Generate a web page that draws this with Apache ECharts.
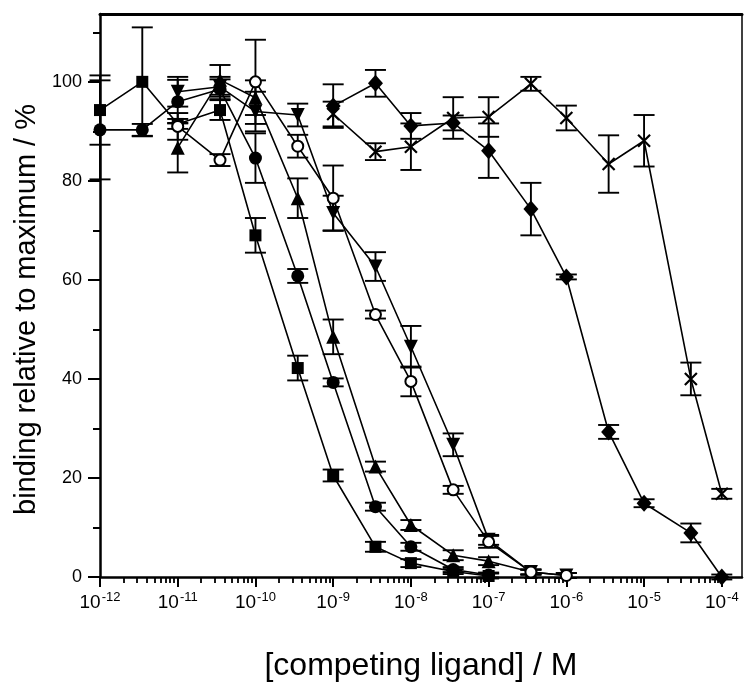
<!DOCTYPE html>
<html>
<head>
<meta charset="utf-8">
<script src="https://cdn.jsdelivr.net/npm/echarts@6/dist/echarts.min.js"></script>
<style>html,body{margin:0;padding:0;background:#fff}#c{width:744px;height:695px}</style>
</head>
<body>
<div id="c"></div>
<script>
// concentrations of competing ligand (M)
const concentrations = [1e-12, 3.5e-12, 1e-11, 3.5e-11, 1e-10, 3.5e-10, 1e-9, 3.5e-9, 1e-8, 3.5e-8, 1e-7, 3.5e-7, 1e-6, 3.5e-6, 1e-5, 4e-5, 1e-4];
const xTickExponents = [-12, -11, -10, -9, -8, -7, -6, -5, -4];
const yTickValues = [0, 20, 40, 60, 80, 100];
const yMinorValues = [10, 30, 50, 70, 90, 110];

// series values (binding relative to maximum, %) and error half-widths
const squareVals   = [94.3, 100, 91.5, 94.3, 69, 42.2, 20.5, 6.1, 2.8, 1.1, 0.2];
const squareErr    = [7, 11, 1, 2, 3.5, 2.5, 1.2, 1, 0.8, 0.5, 0.5];
const circleVals   = [90.3, 90.3, 96, 98.5, 84.6, 60.8, 39.3, 14.2, 6.1, 1.5, 0.4];
const circleErr    = [10, 1.2, 4.4, 2, 5, 1.4, 0.8, 0.8, 0.8, 0.5, 0.5];
const triUpVals    = [null, null, 86.7, 100.4, 96.8, 76.5, 48.5, 22.3, 10.5, 4.4, 3.2, 1];
const triUpErr     = [null, null, 5, 3, 3.5, 4, 3.5, 1, 1, 1, 0.8, 0.5];
const triDownVals  = [null, null, 98, 99, 94.0, 93.3, 73.5, 62.7, 46.5, 26.7, 7.5, 1, 0.3];
const triDownErr   = [null, null, 3, 2, 4, 2.3, 3.5, 2.9, 4.2, 2.3, 1, 0.5, 0.5];
const openCircVals = [null, null, 91, 84.2, 100, 87, 76.5, 53, 39.5, 17.6, 7.1, 1, 0.3];
const openCircErr  = [null, null, 2.7, 1.2, 8.5, 2.3, 6.6, 0.8, 3, 0.8, 1.2, 0.5, 0.5];
const diamondVals  = [null, null, null, null, null, null, 95.1, 99.7, 91.1, 91.7, 86.1, 74.3, 60.6, 29.3, 14.9, 8.9, 0];
const diamondErr   = [null, null, null, null, null, null, 4.4, 2.7, 2.6, 1.5, 5.5, 5.3, 0.5, 1.4, 0.8, 1.9, 0.5];
const crossVals    = [null, null, null, null, null, null, 93.5, 85.9, 86.9, 92.7, 92.9, 99.6, 92.7, 83.4, 88.1, 40, 16.8];
const crossErr     = [null, null, null, null, null, null, 2.5, 1.7, 4.7, 4.2, 4, 1.4, 2.5, 5.8, 5.2, 3.3, 1];

const X_MIN = -12, X_MAX = -3.74, Y_MIN = 0, Y_MAX = 113.7;
const FONT = "'Liberation Sans', Arial, Helvetica, sans-serif";

function pts(vals) {
  const out = [];
  vals.forEach((v, i) => { if (v != null) out.push([Math.log10(concentrations[i]), v]); });
  return out;
}
function errs(vals, e) {
  const out = [];
  vals.forEach((v, i) => { if (v != null && e[i] != null) out.push([Math.log10(concentrations[i]), v - e[i], v + e[i]]); });
  return out;
}
const minorX = [];
for (let k = -12; k < -4; k++) for (let m = 2; m <= 9; m++) minorX.push(k + Math.log10(m));

function errSeries(vals, e) {
  return {
    type: 'custom', xAxisIndex: 0, yAxisIndex: 0, z: 2, silent: true,
    data: errs(vals, e),
    renderItem: function (params, api) {
      const x = api.value(0);
      const p1 = api.coord([x, api.value(1)]);
      const p2 = api.coord([x, api.value(2)]);
      const w = 10.5;
      const st = { stroke: '#000', lineWidth: 1.9 };
      return { type: 'group', children: [
        { type: 'line', shape: { x1: p1[0], y1: p1[1], x2: p2[0], y2: p2[1] }, style: st },
        { type: 'line', shape: { x1: p1[0] - w, y1: p1[1], x2: p1[0] + w, y2: p1[1] }, style: st },
        { type: 'line', shape: { x1: p2[0] - w, y1: p2[1], x2: p2[0] + w, y2: p2[1] }, style: st }
      ]};
    }
  };
}
function lineSeries(vals, symbol, size, opts) {
  return Object.assign({
    type: 'line', xAxisIndex: 0, yAxisIndex: 0, z: 3,
    data: pts(vals), symbol: symbol, symbolSize: size, showAllSymbol: true,
    lineStyle: { color: '#000', width: 1.6 },
    itemStyle: { color: '#000', borderColor: '#000', borderWidth: 0 },
    emphasis: { disabled: true }
  }, opts || {});
}
const crossPath = 'path://M0,0L10,10M10,0L0,10';

const chart = echarts.init(document.getElementById('c'), null, { renderer: 'canvas' });
chart.setOption({
  animation: false,
  backgroundColor: '#fff',
  grid: { left: 100, right: 2, top: 14, bottom: 118, show: false },
  xAxis: [
    {
      type: 'value', min: X_MIN, max: X_MAX, position: 'bottom',
      name: '[competing ligand] / M', nameLocation: 'middle', nameGap: 73,
      nameTextStyle: { fontFamily: FONT, fontSize: 32, color: '#000' },
      axisLine: { show: true, onZero: false, lineStyle: { color: '#000', width: 2.5 } },
      axisTick: { show: true, inside: false, length: 10, lineStyle: { width: 2, color: '#000' }, customValues: xTickExponents },
      axisLabel: {
        customValues: xTickExponents, margin: 14,
        formatter: v => '{b|10}{s|' + v + '}',
        rich: {
          b: { fontFamily: FONT, fontSize: 19, color: '#000' },
          s: { fontFamily: FONT, fontSize: 13, color: '#000', verticalAlign: 'top', padding: [0, 0, 10, 1] }
        }
      },
      splitLine: { show: false }
    },
    {
      type: 'value', min: X_MIN, max: X_MAX, position: 'bottom',
      axisLine: { show: false, onZero: false }, axisLabel: { show: false }, splitLine: { show: false },
      axisTick: { show: true, inside: false, length: 6, lineStyle: { width: 1.8, color: '#000' }, customValues: minorX }
    },
    {
      type: 'value', min: X_MIN, max: X_MAX, position: 'top',
      axisLine: { show: true, onZero: false, lineStyle: { color: '#000', width: 3 } },
      axisTick: { show: false }, axisLabel: { show: false }, splitLine: { show: false }
    }
  ],
  yAxis: [
    {
      type: 'value', min: Y_MIN, max: Y_MAX, position: 'left',
      name: 'binding relative to maximum / %', nameLocation: 'middle', nameGap: 45,
      nameTextStyle: { fontFamily: FONT, fontSize: 29, color: '#000', padding: [0, 28, 0, 0] },
      axisLine: { show: true, onZero: false, lineStyle: { color: '#000', width: 2.5 } },
      axisTick: { show: true, inside: false, length: 12, lineStyle: { width: 2, color: '#000' }, customValues: yTickValues },
      axisLabel: { customValues: yTickValues, margin: 18, fontFamily: FONT, fontSize: 18, color: '#000' },
      splitLine: { show: false }
    },
    {
      type: 'value', min: Y_MIN, max: Y_MAX, position: 'left',
      axisLine: { show: false, onZero: false }, axisLabel: { show: false }, splitLine: { show: false },
      axisTick: { show: true, inside: false, length: 7, lineStyle: { width: 2, color: '#000' }, customValues: yMinorValues }
    },
    {
      type: 'value', min: Y_MIN, max: Y_MAX, position: 'right',
      axisLine: { show: true, onZero: false, lineStyle: { color: '#000', width: 1.5 } },
      axisTick: { show: false }, axisLabel: { show: false }, splitLine: { show: false }
    }
  ],
  series: [
    errSeries(crossVals, crossErr),
    errSeries(diamondVals, diamondErr),
    errSeries(squareVals, squareErr),
    errSeries(circleVals, circleErr),
    errSeries(triUpVals, triUpErr),
    errSeries(triDownVals, triDownErr),
    errSeries(openCircVals, openCircErr),
    lineSeries(crossVals, crossPath, 12, { itemStyle: { color: 'none', borderColor: '#000', borderWidth: 2.2 } }),
    lineSeries(diamondVals, 'diamond', [15, 17]),
    lineSeries(squareVals, 'rect', 12),
    lineSeries(circleVals, 'circle', 13),
    lineSeries(triUpVals, 'triangle', 14),
    lineSeries(triDownVals, 'triangle', 14, { symbolRotate: 180 }),
    lineSeries(openCircVals, 'circle', 11, { z: 4, itemStyle: { color: '#fff', borderColor: '#000', borderWidth: 2 } })
  ]
});
</script>
</body>
</html>
